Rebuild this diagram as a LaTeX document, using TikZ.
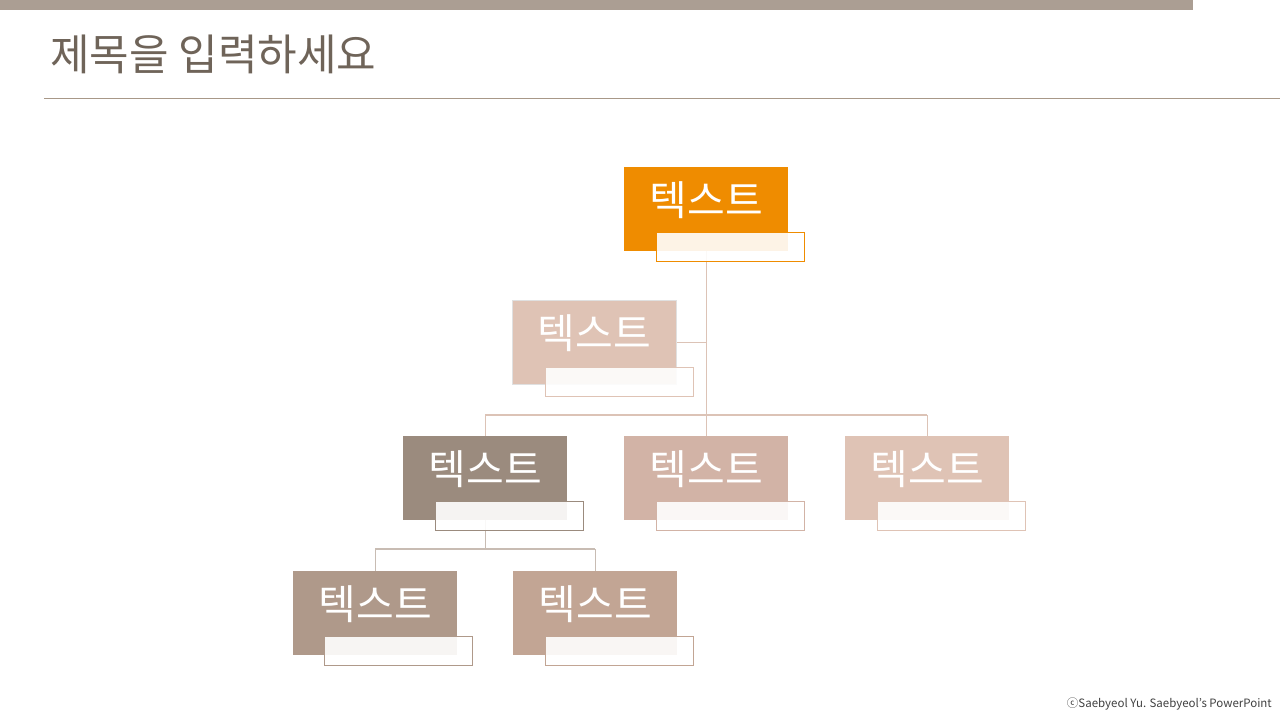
\documentclass[tikz,border=0pt]{standalone}
\usepackage{fontspec}
\setmainfont{Noto Sans CJK KR}
\definecolor{barC}{HTML}{AB9E93}
\definecolor{titleC}{HTML}{6F6459}
\definecolor{ruleC}{HTML}{A89888}
\definecolor{orangeC}{HTML}{EF8C00}
\definecolor{astC}{HTML}{DFC3B5}
\definecolor{aC}{HTML}{9B8B7E}
\definecolor{bC}{HTML}{D2B3A6}
\definecolor{cC}{HTML}{DFC3B5}
\definecolor{dC}{HTML}{AF998A}
\definecolor{eC}{HTML}{C2A594}
\definecolor{connC}{HTML}{DCC3B6}
\definecolor{conn2C}{HTML}{C8BCB3}
\begin{document}
\begin{tikzpicture}[x=1pt,y=-1pt,
  box/.style={rectangle, inner sep=0, minimum width=164, minimum height=84, anchor=north west},
  subbox/.style={rectangle, inner sep=0, fill=white, fill opacity=0.9, line width=1pt, minimum width=148, minimum height=29, anchor=north west},
  lbl/.style={text=white, font=\fontsize{41}{44}\selectfont, inner sep=0},
  conn/.style={draw=connC, line width=1.3pt},
  conn2/.style={draw=conn2C, line width=1.3pt}]
\useasboundingbox (0,0) rectangle (1280,720);
\fill[barC] (0,0) rectangle (1193,10);
\node[anchor=west, inner sep=0, text=titleC, font=\fontsize{43}{46}\selectfont] (title) at (50,54) {제목을 입력하세요};
\coordinate (ruleL) at (44,98);
\coordinate (ruleR) at (1280,98);
\draw[ruleC, line width=1pt] (ruleL) -- (ruleR);

% boxes (positions)
\node[box] (b1) at (624,167) {};
\node[box] (ast) at (512,300) {};
\node[box] (bA) at (403,436) {};
\node[box] (bB) at (624,436) {};
\node[box] (bC) at (845,436) {};
\node[box] (bD) at (293,571) {};
\node[box] (bE) at (513,571) {};
\coordinate (bus1) at (706,415);
\coordinate (bus2) at (484,549);

% connectors
\draw[conn] (b1.south) -- (b1.south |- bus1);
\draw[conn] (ast.east) -- (ast.east -| b1.south);
\draw[conn] (bA.north |- bus1) -- (bC.north |- bus1);
\draw[conn] (bA.north |- bus1) -- (bA.north);
\draw[conn] (bB.north |- bus1) -- (bB.north);
\draw[conn] (bC.north |- bus1) -- (bC.north);
\draw[conn2] (bA.south) -- (bA.south |- bus2);
\draw[conn2] (bD.north |- bus2) -- (bE.north |- bus2);
\draw[conn2] (bD.north |- bus2) -- (bD.north);
\draw[conn2] (bE.north |- bus2) -- (bE.north);

% filled boxes
\fill[orangeC] (b1.north west) rectangle (b1.south east);
\filldraw[fill=astC, draw=black!12, line width=0.8pt] (ast.north west) rectangle (ast.south east);
\fill[aC] (bA.north west) rectangle (bA.south east);
\fill[bC] (bB.north west) rectangle (bB.south east);
\fill[cC] (bC.north west) rectangle (bC.south east);
\fill[dC] (bD.north west) rectangle (bD.south east);
\fill[eC] (bE.north west) rectangle (bE.south east);

% labels
\node[lbl] (b1t) at ([yshift=-33pt]b1.north) {텍스트};
\node[lbl] (astt) at ([yshift=-33pt]ast.north) {텍스트};
\node[lbl] (bAt) at ([yshift=-33pt]bA.north) {텍스트};
\node[lbl] (bBt) at ([yshift=-33pt]bB.north) {텍스트};
\node[lbl] (bCt) at ([yshift=-33pt]bC.north) {텍스트};
\node[lbl] (bDt) at ([yshift=-33pt]bD.north) {텍스트};
\node[lbl] (bEt) at ([yshift=-33pt]bE.north) {텍스트};

% sub boxes
\node[subbox, draw=orangeC] (b1s) at (656,232) {};
\node[subbox, draw=astC] (asts) at (545,367) {};
\node[subbox, draw=aC] (bAs) at (435,501) {};
\node[subbox, draw=bC] (bBs) at (656,501) {};
\node[subbox, draw=cC] (bCs) at (877,501) {};
\node[subbox, draw=dC] (bDs) at (324,636) {};
\node[subbox, draw=eC] (bEs) at (545,636) {};

\node[anchor=east, inner sep=0, text=black!75, font=\fontsize{11.5}{13}\selectfont] (foot) at (1272,704) {ⓒSaebyeol Yu. Saebyeol's PowerPoint};
\end{tikzpicture}
\end{document}
